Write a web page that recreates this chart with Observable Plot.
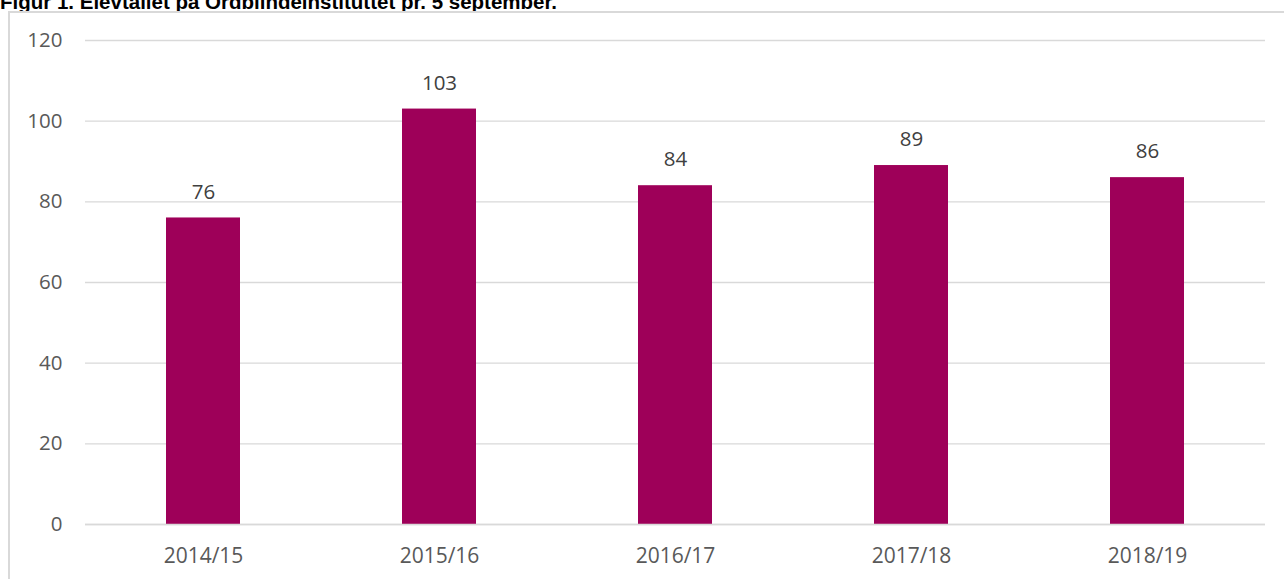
<!DOCTYPE html>
<html>
<head>
<meta charset="utf-8">
<script src="https://cdn.jsdelivr.net/npm/d3@7"></script>
<script src="https://cdn.jsdelivr.net/npm/@observablehq/plot@0.6"></script>
<style>
  html, body { margin: 0; padding: 0; background: #fff; width: 1284px; height: 579px; overflow: hidden; }
  #wrap { position: relative; width: 1284px; height: 579px; }
  #title { position: absolute; left: 0; top: -8px; font: bold 20.5px "Liberation Sans", Arial, sans-serif; line-height: 20.5px; color: #000; white-space: nowrap; }
  #frame { position: absolute; left: 8px; top: 11px; width: 1300px; height: 600px; border: 2px solid #d9d9d9; box-sizing: border-box; }
  #chart { position: absolute; left: 0; top: 0; }
</style>
</head>
<body>
<div id="wrap">
  <div id="title">Figur 1. Elevtallet på Ordblindeinstituttet pr. 5 september.</div>
  <div id="frame"></div>
  <div id="chart"></div>
</div>
<script>
const years = ["2014/15", "2015/16", "2016/17", "2017/18", "2018/19"];
const counts = [76, 103, 84, 89, 86];
const yTicks = [0, 20, 40, 60, 80, 100, 120];

const data = years.map((y, i) => ({year: y, count: counts[i]}));

const chart = Plot.plot({
  width: 1284,
  height: 579,
  marginLeft: 85,
  marginRight: 19,
  marginTop: 40,
  marginBottom: 55,
  style: {background: "transparent", fontFamily: "'Open Sans', 'Liberation Sans', sans-serif", fontSize: "20px", color: "#595959"},
  x: {domain: years, paddingInner: 0.685, paddingOuter: 0.3425, label: null},
  y: {domain: [0, 120], label: null},
  marks: [
    Plot.gridY(yTicks, {stroke: "#d9d9d9", strokeOpacity: 1, strokeWidth: 1.3}),
    Plot.axisY(yTicks, {tickSize: 0, tickPadding: 23, fontSize: 20.5, fill: "#595959"}),
    Plot.axisX({tickSize: 0, tickPadding: 24, fontSize: 21, fill: "#595959"}),
    Plot.barY(data, {x: "year", y: "count", fill: "#9e0059"}),
    Plot.ruleY([0], {stroke: "#d9d9d9", strokeWidth: 1.5}),
    Plot.text(data, {x: "year", y: "count", text: d => String(d.count), dy: -26, fontSize: 20.5, fill: "#404040"})
  ]
});
document.getElementById("chart").appendChild(chart);
</script>
</body>
</html>
